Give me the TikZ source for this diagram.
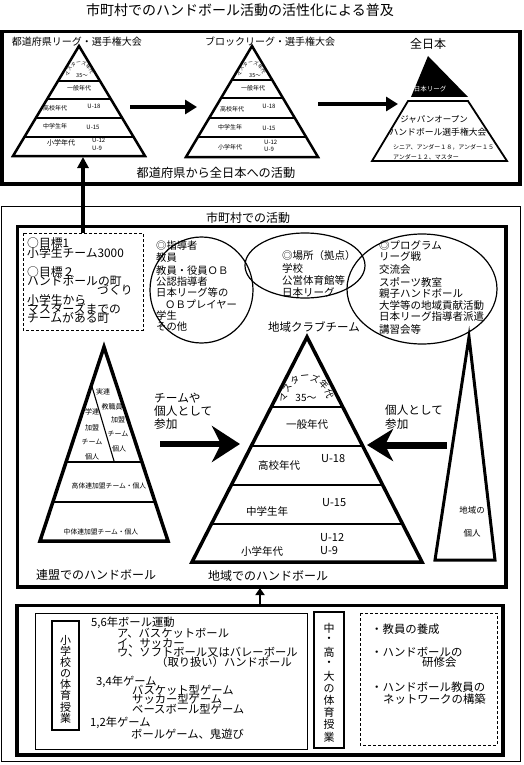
\documentclass[tikz,border=0pt]{standalone}
\usepackage{fontspec}
\setmainfont{Noto Sans CJK JP}
\usetikzlibrary{arrows.meta,calc}
\newcommand\fsz[1]{\fontsize{#1}{#1}\selectfont}
\newcommand\tx[5]{\node[inner sep=0pt,anchor=#1,font=\fsz{#2}] (#3) at (#4) {#5};}
\newcommand\arctxt[6]{%
  \foreach \c [count=\i] in {マ,ス,タ,ー,ズ,年,代} {%
    \pgfmathsetmacro\ang{175-(\i-1)*#6}%
    \node[inner sep=0pt,font=\fsz{#5},rotate=\ang-90] (#1-\i) at ($(#2,#3)+(-\ang:#4)$) {\c};}}
\begin{document}
\begin{tikzpicture}[x=1pt,y=-1pt,
  thickbox/.style={line width=3.5pt},
  thinbox/.style={line width=1pt},
  pyr/.style={line width=2.5pt,line join=miter},
  layer/.style={line width=1.2pt},
  toparrow/.style={line width=4.5pt,-{Triangle[length=12pt,width=14pt]}},
  dashbox/.style={line width=1pt,dash pattern=on 3pt off 2pt},
]
\useasboundingbox (0,0) rectangle (524,765);
\fill[white] (0,0) rectangle (524,765);

% ---------- top section ----------
\tx{center}{14}{title}{240,10}{市町村でのハンドボール活動の活性化による普及}
\draw[thickbox] (2,31.5) rectangle (520,184);
\tx{center}{10}{h1}{77,42}{都道府県リーグ・選手権大会}
\tx{center}{10}{h2}{270,42}{ブロックリーグ・選手権大会}
\tx{center}{12}{h3}{428,44}{全日本}

% pyramid 1
\coordinate (p1a) at (79,46); \coordinate (p1l) at (13,156); \coordinate (p1r) at (145,156);
\begin{scope}
\clip (p1a)--(p1l)--(p1r)--cycle;
\foreach \yy in {81,99,118,137} \draw[layer] (0,\yy)--(524,\yy);
\end{scope}
\draw[pyr] (p1a)--(p1l)--(p1r)--cycle;
\arctxt{p1m}{80}{75}{12}{4.8}{26}
\tx{center}{5.5}{p1t0}{82,76}{35～}
\tx{center}{6}{p1t1}{79,88}{一般年代}
\tx{center}{6}{p1t2}{55,108}{高校年代}
\tx{center}{6}{p1t3}{94,106}{U-18}
\tx{center}{6}{p1t4}{55,126}{中学生年}
\tx{center}{6}{p1t5}{93,127}{U-15}
\tx{center}{7}{p1t6}{61,143}{小学年代}
\tx{west}{6}{p1t7}{92,140}{U-12}
\tx{west}{6}{p1t8}{92,148}{U-9}

% pyramid 2
\coordinate (p2a) at (252,46); \coordinate (p2l) at (186,157); \coordinate (p2r) at (318,157);
\begin{scope}
\clip (p2a)--(p2l)--(p2r)--cycle;
\foreach \yy in {80,98,118,137} \draw[layer] (0,\yy)--(524,\yy);
\end{scope}
\draw[pyr] (p2a)--(p2l)--(p2r)--cycle;
\arctxt{p2m}{252}{75}{12}{4.8}{26}
\tx{center}{5.5}{p2t0}{255,76}{35～}
\tx{center}{6}{p2t1}{253,88}{一般年代}
\tx{center}{6}{p2t2}{232,109}{高校年代}
\tx{center}{6}{p2t3}{269,106}{U-18}
\tx{center}{6}{p2t4}{230,127}{中学生年}
\tx{center}{6}{p2t5}{269,128}{U-15}
\tx{center}{6}{p2t6}{230,147}{小学年代}
\tx{west}{6}{p2t7}{264,142}{U-12}
\tx{west}{6}{p2t8}{264,149}{U-9}

% all Japan
\fill (428,56)--(411,97)--(468,97)--cycle;
\node[inner sep=0pt,font=\fsz{6.5},text=white] (jl) at (430,89) {日本リーグ};
\draw[line width=1.8pt,line join=miter] (408,101)--(468,101)--(507,161)--(372,161)--cycle;
\tx{center}{8.5}{jo1}{434,119}{ジャパンオープン}
\tx{center}{8.8}{jo2}{438,132}{ハンドボール選手権大会}
\tx{west}{6}{jo3}{393,147}{シニア、アンダー１８，アンダー１５}
\tx{west}{6}{jo4}{393,157}{アンダー１２、マスター}
\tx{center}{12.2}{h4}{216,173}{都道府県から全日本への活動}

\coordinate (a1s) at (130,107); \coordinate (a1e) at (197,107);
\draw[toparrow] (a1s)--(a1e);
\coordinate (a2s) at (318,104); \coordinate (a2e) at (398,104);
\draw[toparrow] (a2s)--(a2e);

% ---------- middle section ----------
\draw[thinbox] (1.5,206) rectangle (520,761);
\tx{center}{12}{h5}{248,218}{市町村での活動}
\draw[thickbox] (17.5,226.5) rectangle (506,587);

\draw[dashbox] (23,233) rectangle (143,330);
\coordinate (a3s) at (83,233); \coordinate (a3e) at (83,157);
\draw[line width=3.5pt,-{Triangle[length=11pt,width=11pt]}] (a3s)--(a3e);
\tx{west}{11.8}{g1}{27,243}{○目標1}
\tx{west}{11.8}{g2}{27,253}{小学生チーム3000}
\tx{west}{11.8}{g3}{27,272}{○目標２}
\tx{west}{11.8}{g4}{27,281}{ハンドボールの町}
\tx{west}{11.8}{g5}{97,290}{づくり}
\tx{west}{11.8}{g6}{27,300}{小学生から}
\tx{west}{11.8}{g7}{27,309}{マスターズまでの}
\tx{west}{11.8}{g8}{27,318}{チームがある町}

\draw[line width=1.2pt] (201.5,290) ellipse [x radius=51.5,y radius=53];
\draw[line width=1.2pt] (305,265.5) ellipse [x radius=60,y radius=32.5];
\draw[line width=1.2pt] (422,289) ellipse [x radius=75,y radius=55];

\tx{west}{10.3}{e1a}{156,246}{◎指導者}
\tx{west}{10.3}{e1b}{156,258}{教員}
\tx{west}{10.3}{e1c}{156,271}{教員・役員ＯＢ}
\tx{west}{10.3}{e1d}{156,282}{公認指導者}
\tx{west}{10.3}{e1e}{156,293}{日本リーグ等の}
\tx{west}{10.3}{e1f}{165,304}{ＯＢプレイヤー}
\tx{west}{10.3}{e1g}{156,316}{学生}
\tx{west}{10.3}{e1h}{156,327}{その他}

\tx{west}{10.5}{e2a}{282,256}{◎場所（拠点）}
\tx{west}{10.5}{e2b}{282,268}{学校}
\tx{west}{10.5}{e2c}{282,281}{公営体育館等}
\tx{west}{10.5}{e2d}{282,293}{日本リーグ}

\tx{west}{10.5}{e3a}{379,245}{◎プログラム}
\tx{west}{10.5}{e3b}{379,257}{リーグ戦}
\tx{west}{10.5}{e3c}{379,270}{交流会}
\tx{west}{10.5}{e3d}{379,282}{スポーツ教室}
\tx{west}{10.5}{e3e}{379,294}{親子ハンドボール}
\tx{west}{10.5}{e3f}{379,306}{大学等の地域貢献活動}
\tx{west}{10.5}{e3g}{379,317}{日本リーグ指導者派遣}
\tx{west}{10.5}{e3h}{379,329}{講習会等}

\tx{center}{11.5}{club}{314,327}{地域クラブチーム}

% big pyramid
\coordinate (p3a) at (307,337); \coordinate (p3l) at (192,562); \coordinate (p3r) at (422,562);
\begin{scope}
\clip (p3a)--(p3l)--(p3r)--cycle;
\foreach \yy in {407,446,485,524} \draw[line width=1.5pt] (0,\yy)--(524,\yy);
\end{scope}
\draw[line width=3.5pt,line join=miter] (p3a)--(p3l)--(p3r)--cycle;
\arctxt{p3m}{307}{400}{23}{9}{26.5}
\tx{center}{10}{p3t0}{306,398}{35～}
\tx{center}{10.5}{p3t1}{307,424}{一般年代}
\tx{center}{10.5}{p3t2}{279,465}{高校年代}
\tx{west}{11}{p3t3}{321,459}{U-18}
\tx{center}{10.5}{p3t4}{267,511}{中学生年}
\tx{west}{11}{p3t5}{322,503}{U-15}
\tx{center}{10.5}{p3t6}{262,551}{小学年代}
\tx{west}{11}{p3t7}{320,538}{U-12}
\tx{west}{11}{p3t8}{320,551}{U-9}
\tx{center}{12}{h6}{268,576}{地域でのハンドボール}

% federation pyramid
\coordinate (p4a) at (104,347); \coordinate (p4l) at (40,541); \coordinate (p4r) at (168,541);
\begin{scope}
\clip (p4a)--(p4l)--(p4r)--cycle;
\foreach \yy in {462,502} \draw[line width=1.3pt] (0,\yy)--(524,\yy);
\draw[line width=1.1pt] (89.3,377.5)--(114.3,462);
\end{scope}
\draw[line width=3.5pt,line join=miter] (p4a)--(p4l)--(p4r)--cycle;
\tx{center}{7}{f1}{103,392}{実連}
\tx{center}{7}{f2}{112,407}{教職員}
\tx{center}{7}{f3}{118,420}{加盟}
\tx{center}{7}{f4}{118,434}{チーム}
\tx{center}{7}{f5}{119,449}{個人}
\tx{center}{7}{f6}{92,412}{学連}
\tx{center}{7}{f7}{92,428}{加盟}
\tx{center}{7}{f8}{92,442}{チーム}
\tx{center}{7}{f9}{92,457}{個人}
\tx{center}{6.8}{f10}{109,486}{高体連加盟チーム・個人}
\tx{center}{6.8}{f11}{101,532}{中体連加盟チーム・個人}
\tx{center}{12}{h7}{96,575}{連盟でのハンドボール}

% arrows into the club pyramid
\coordinate (a4s) at (160,444); \coordinate (a4e) at (240,444);
\draw[line width=6.5pt,-{Stealth[length=28pt,width=36pt,inset=9pt]}] (a4s)--(a4e);
\tx{west}{11.7}{l1}{154,398}{チームや}
\tx{west}{11.7}{l2}{154,411}{個人として}
\tx{west}{11.7}{l3}{154,424}{参加}

\coordinate (a5s) at (447,445); \coordinate (a5e) at (367,445);
\draw[line width=7pt,-{Stealth[length=26pt,width=32pt,inset=8pt]}] (a5s)--(a5e);
\tx{west}{11.6}{r1}{385,410}{個人として}
\tx{west}{11.6}{r2}{385,424}{参加}

% thin triangle
\draw[line width=3pt,line join=miter] (469,337)--(435,560)--(495,560)--cycle;
\tx{center}{8.5}{i1}{472,510}{地域の}
\tx{center}{8.5}{i2}{472,533}{個人}

% ---------- bottom section ----------
\coordinate (a6s) at (260,605); \coordinate (a6e) at (260,588);
\draw[line width=2.5pt,-{Triangle[length=7pt,width=9pt]}] (a6s)--(a6e);
\draw[thickbox] (17,605.5) rectangle (503,755);
\draw[thinbox] (35,613) rectangle (307,749);
\draw[line width=1.3pt] (52,621) rectangle (79,730);
\foreach \c [count=\i] in {小,学,校,の,体,育,授,業}
  \node[inner sep=0pt,font=\fsz{11}] (v1-\i) at (65.5,{640+(\i-1)*11.14}) {\c};

\tx{west}{11.3}{b1}{91,623}{5,6年ボール運動}
\tx{west}{11.3}{b2}{117,633}{ア、バスケットボール}
\tx{west}{11.3}{b3}{117,643}{イ、サッカー}
\tx{west}{11.3}{b4}{117,652}{ウ、ソフトボール又はバレーボール}
\tx{west}{11.3}{b5}{156,662}{（取り扱い）ハンドボール}
\tx{west}{11.3}{b6}{96,682}{3,4年ゲーム}
\tx{west}{11.3}{b7}{132,690}{バスケット型ゲーム}
\tx{west}{11.3}{b8}{132,699}{サッカー型ゲーム}
\tx{west}{11.3}{b9}{132,709}{ベースボール型ゲーム}
\tx{west}{11.3}{b10}{90,723}{1,2年ゲーム}
\tx{west}{11.3}{b11}{131,734}{ボールゲーム、鬼遊び}

\draw[line width=1.3pt] (314,612) rectangle (344,748);
\foreach \c [count=\i] in {中,・,高,・,大,の,体,育,授,業}
  \node[inner sep=0pt,font=\fsz{11}] (v2-\i) at (329,{628+(\i-1)*12.1}) {\c};

\draw[dashbox] (360,613) rectangle (497,745);
\tx{west}{11.4}{d1}{371,629}{・教員の養成}
\tx{west}{11.4}{d2}{371,652}{・ハンドボールの}
\tx{west}{11.4}{d3}{422,662}{研修会}
\tx{west}{11.4}{d4}{371,687}{・ハンドボール教員の}
\tx{west}{11.4}{d5}{383,699}{ネットワークの構築}
\end{tikzpicture}
\end{document}
